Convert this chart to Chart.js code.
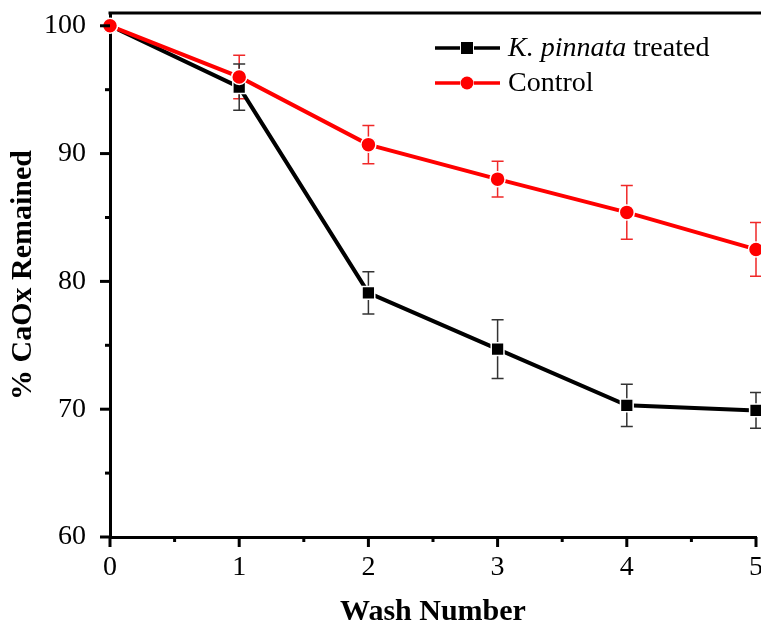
<!DOCTYPE html>
<html>
<head>
<meta charset="utf-8">
<script src="https://cdn.jsdelivr.net/npm/chart.js@4/dist/chart.umd.min.js"></script>
<style>
  html, body { margin: 0; padding: 0; background: #fff; }
  #wrap { width: 761px; height: 628px; position: relative; }
</style>
</head>
<body>
<div id="wrap"><canvas id="chart"></canvas></div>
<script>
// data
const washes = [0, 1, 2, 3, 4, 5]
const treated = [100, 95.2, 79.1, 74.7, 70.3, 69.9]
const treatedErr = [0, 1.8, 1.65, 2.3, 1.65, 1.4]
const control = [100, 96.0, 90.7, 88.0, 85.4, 82.5]
const controlErr = [0, 1.7, 1.5, 1.4, 2.1, 2.1]
const yTicks = [60, 65, 70, 75, 80, 85, 90, 95, 100]
const xTicks = [0, 0.5, 1, 1.5, 2, 2.5, 3, 3.5, 4, 4.5, 5]

const serif = "'Liberation Serif', 'Times New Roman', serif"

const pts = (ys) => washes.map((x, i) => ({ x: x, y: ys[i] }))

// error bars, ticks, top frame and legend drawn on top of the scales
const extras = {
  id: 'extras',
  beforeDatasetsDraw(chart) {
    const ctx = chart.ctx
    const xs = chart.scales.x, ys = chart.scales.y
    chart.data.datasets.forEach(ds => {
      ctx.save()
      ctx.strokeStyle = ds.errColor
      ctx.lineWidth = 1.5
      ds.err.forEach((e, i) => {
        if (!e) return
        const px = xs.getPixelForValue(washes[i])
        const top = ys.getPixelForValue(ds.vals[i] + e)
        const bot = ys.getPixelForValue(ds.vals[i] - e)
        ctx.beginPath()
        ctx.moveTo(px, top); ctx.lineTo(px, bot)
        ctx.moveTo(px - 6, top); ctx.lineTo(px + 6, top)
        ctx.moveTo(px - 6, bot); ctx.lineTo(px + 6, bot)
        ctx.stroke()
      })
      ctx.restore()
    })
  },
  afterDraw(chart) {
    const ctx = chart.ctx
    const ca = chart.chartArea
    const xs = chart.scales.x, ys = chart.scales.y
    ctx.save()
    ctx.strokeStyle = '#000'
    ctx.lineWidth = 3
    // top frame
    ctx.beginPath()
    ctx.moveTo(ca.left - 1.5, ca.top)
    ctx.lineTo(chart.width, ca.top)
    ctx.stroke()
    // y ticks
    yTicks.forEach(v => {
      const py = ys.getPixelForValue(v)
      const len = v % 10 === 0 ? 10 : 5
      ctx.beginPath()
      ctx.moveTo(ca.left, py); ctx.lineTo(ca.left - len, py)
      ctx.stroke()
    })
    // x ticks
    xTicks.forEach(v => {
      const px = xs.getPixelForValue(v)
      const len = Number.isInteger(v) ? 10 : 5
      ctx.beginPath()
      ctx.moveTo(px, ca.bottom); ctx.lineTo(px, ca.bottom + len)
      ctx.stroke()
    })
    ctx.restore()

    // legend
    const rows = [48, 83]
    chart.data.datasets.slice().reverse().forEach((ds, k) => {
      const y = rows[k]
      ctx.save()
      ctx.strokeStyle = ds.borderColor
      ctx.fillStyle = ds.borderColor
      ctx.lineWidth = 3.5
      ctx.beginPath()
      ctx.moveTo(435, y); ctx.lineTo(460, y)
      ctx.moveTo(474, y); ctx.lineTo(500, y)
      ctx.stroke()
      if (ds.pointStyle === 'rect') {
        ctx.fillRect(467 - 6, y - 6, 12, 12)
      } else {
        ctx.beginPath(); ctx.arc(467, y, 6.5, 0, Math.PI * 2); ctx.fill()
      }
      ctx.fillStyle = '#000'
      ctx.textBaseline = 'middle'
      let x = 508
      ds.legendParts.forEach(p => {
        ctx.font = (p.italic ? 'italic ' : '') + '28px ' + serif
        ctx.fillText(p.t, x, y + 1)
        x += ctx.measureText(p.t).width
      })
      ctx.restore()
    })
  }
}

const config = {
  type: 'line',
  data: {
    datasets: [
      {
        label: 'Control',
        legendParts: [{ t: 'Control' }],
        data: pts(control),
        vals: control,
        err: controlErr,
        errColor: 'rgb(240, 40, 40)',
        borderColor: '#ff0000',
        backgroundColor: '#ff0000',
        borderWidth: 4,
        pointStyle: 'circle',
        pointRadius: 7.5,
        pointBorderColor: '#fff',
        pointBorderWidth: 1.5,
        order: 0
      },
      {
        label: 'K. pinnata treated',
        legendParts: [{ t: 'K. pinnata', italic: true }, { t: ' treated' }],
        data: pts(treated),
        vals: treated,
        err: treatedErr,
        errColor: '#333',
        borderColor: '#000',
        backgroundColor: '#000',
        borderWidth: 4,
        pointStyle: 'rect',
        pointRadius: 9,
        pointBorderColor: '#fff',
        pointBorderWidth: 1.5,
        order: 1
      }
    ]
  },
  options: {
    responsive: true,
    maintainAspectRatio: false,
    animation: false,
    clip: false,
    layout: { autoPadding: false, padding: { top: 13, right: 5, left: 0, bottom: 0 } },
    plugins: { legend: { display: false }, tooltip: { enabled: false } },
    scales: {
      x: {
        type: 'linear',
        min: 0,
        max: 5,
        afterBuildTicks: s => { s.ticks = xTicks.map(v => ({ value: v })) },
        afterFit: s => { s.height = 91; s.paddingLeft = 0; s.paddingRight = 0 },
        grid: { display: false },
        border: { display: true, color: '#000', width: 3 },
        ticks: {
          color: '#000',
          font: { family: serif, size: 28 },
          padding: 6,
          maxRotation: 0,
          autoSkip: false,
          callback: v => Number.isInteger(v) ? String(v) : ''
        },
        title: {
          display: true,
          text: 'Wash Number',
          color: '#000',
          font: { family: serif, size: 30, weight: 'bold', lineHeight: 1.05 },
          padding: { top: 0, bottom: 0 }
        }
      },
      y: {
        min: 60,
        max: 101,
        afterBuildTicks: s => { s.ticks = yTicks.map(v => ({ value: v })) },
        afterFit: s => { s.width = 110; s.paddingTop = 0; s.paddingBottom = 0 },
        grid: { display: false },
        border: { display: true, color: '#000', width: 3 },
        ticks: {
          color: '#000',
          font: { family: serif, size: 28 },
          padding: 16,
          autoSkip: false,
          callback: v => v % 10 === 0 ? String(v) : ''
        },
        title: {
          display: true,
          text: '% CaOx Remained',
          color: '#000',
          font: { family: serif, size: 30, weight: 'bold' },
          padding: { top: 5, bottom: 0 }
        }
      }
    }
  },
  plugins: [extras]
}

new Chart(document.getElementById('chart'), config)
</script>
</body>
</html>
